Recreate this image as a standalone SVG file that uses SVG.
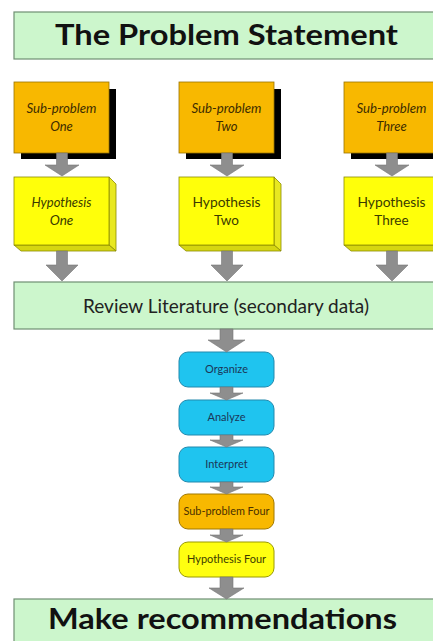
<svg xmlns="http://www.w3.org/2000/svg" width="433" height="641" viewBox="0 0 433 641">
<defs>
<style>
.banner{fill:#ccf6cc;stroke:#6f8f72;stroke-width:1.2}
.sub{fill:#f8b800;stroke:#9a7400;stroke-width:0.8}
.shadow{fill:#000}
.hyp{fill:#ffff0a;stroke:#8c8c00;stroke-width:0.8}
.hypside{fill:#e8e820;stroke:#8c8c00;stroke-width:0.8}
.hypbot{fill:#d6d610;stroke:#8c8c00;stroke-width:0.8}
.cyan{fill:#1fc4ef;stroke:#2289ad;stroke-width:1}
.orng{fill:#f8b800;stroke:#a07800;stroke-width:1}
.yel{fill:#ffff10;stroke:#9a9a00;stroke-width:1}
.arrow{fill:#8e8e8e;stroke:#777;stroke-width:0.6}
.big{font-family:Lato,"Open Sans","DejaVu Sans",sans-serif;font-weight:700;font-size:28px;fill:#111;text-anchor:middle}
.mid{font-family:Lato,"Open Sans","DejaVu Sans",sans-serif;font-size:20px;fill:#222;text-anchor:middle}
.st{font-family:Lato,"Open Sans","DejaVu Sans",sans-serif;font-size:13px;font-style:italic;fill:#3d2c00;text-anchor:middle}
.ht{font-family:Lato,"Open Sans","DejaVu Sans",sans-serif;font-size:13.5px;fill:#3a3a00;text-anchor:middle}
.hti{font-style:italic}
.ct{font-family:Lato,"Open Sans","DejaVu Sans",sans-serif;font-size:11px;fill:#1b3658;text-anchor:middle}
.ot{font-family:Lato,"Open Sans","DejaVu Sans",sans-serif;font-size:11px;fill:#4a3000;text-anchor:middle}
.yt{font-family:Lato,"Open Sans","DejaVu Sans",sans-serif;font-size:11px;fill:#3c3c00;text-anchor:middle}
</style>
</defs>
<rect width="433" height="641" fill="#fff"/>

<g id="problem-statement">
<rect class="banner" x="14" y="12" width="425" height="47"/>
<text class="big" x="226.5" y="45" textLength="343" lengthAdjust="spacingAndGlyphs">The Problem Statement</text>
</g>

<g id="subproblem-one">
<rect class="shadow" x="21" y="89" width="95" height="70"/>
<rect class="sub" x="14" y="82" width="95" height="71"/>
<text class="st" x="61.5" y="113" textLength="70" lengthAdjust="spacingAndGlyphs">Sub-problem</text>
<text class="st" x="61.5" y="131">One</text>
</g>
<g id="subproblem-two">
<rect class="shadow" x="186" y="89" width="95" height="70"/>
<rect class="sub" x="179" y="82" width="95" height="71"/>
<text class="st" x="226.5" y="113" textLength="70" lengthAdjust="spacingAndGlyphs">Sub-problem</text>
<text class="st" x="226.5" y="131">Two</text>
</g>
<g id="subproblem-three">
<rect class="shadow" x="351" y="89" width="95" height="70"/>
<rect class="sub" x="344" y="82" width="95" height="71"/>
<text class="st" x="391.5" y="113" textLength="70" lengthAdjust="spacingAndGlyphs">Sub-problem</text>
<text class="st" x="391.5" y="131">Three</text>
</g>

<g id="hypothesis-one">
<polygon class="hypside" points="109,177 116,184 116,251 109,245"/>
<polygon class="hypbot" points="14,245 109,245 116,251 21,251"/>
<rect class="hyp" x="14" y="177" width="95" height="68"/>
<text class="ht hti" x="61.5" y="207" textLength="60" lengthAdjust="spacingAndGlyphs">Hypothesis</text>
<text class="ht hti" x="61.5" y="225">One</text>
</g>
<g id="hypothesis-two">
<polygon class="hypside" points="274,177 281,184 281,251 274,245"/>
<polygon class="hypbot" points="179,245 274,245 281,251 186,251"/>
<rect class="hyp" x="179" y="177" width="95" height="68"/>
<text class="ht" x="226.5" y="207" textLength="68" lengthAdjust="spacingAndGlyphs">Hypothesis</text>
<text class="ht" x="226.5" y="225">Two</text>
</g>
<g id="hypothesis-three">
<polygon class="hypside" points="439,177 446,184 446,251 439,245"/>
<polygon class="hypbot" points="344,245 439,245 446,251 351,251"/>
<rect class="hyp" x="344" y="177" width="95" height="68"/>
<text class="ht" x="391.5" y="207" textLength="68" lengthAdjust="spacingAndGlyphs">Hypothesis</text>
<text class="ht" x="391.5" y="225">Three</text>
</g>

<g id="review-literature">
<rect class="banner" x="14" y="282" width="425" height="47"/>
<text class="mid" x="226" y="313" textLength="286" lengthAdjust="spacingAndGlyphs">Review Literature (secondary data)</text>
</g>

<g id="organize">
<rect class="cyan" x="179" y="352" width="95" height="35" rx="9"/>
<text class="ct" x="226.5" y="373" textLength="43" lengthAdjust="spacingAndGlyphs">Organize</text>
</g>
<g id="analyze">
<rect class="cyan" x="179" y="400" width="95" height="35" rx="9"/>
<text class="ct" x="226.5" y="421">Analyze</text>
</g>
<g id="interpret">
<rect class="cyan" x="179" y="447" width="95" height="35" rx="9"/>
<text class="ct" x="226.5" y="468">Interpret</text>
</g>
<g id="subproblem-four">
<rect class="orng" x="179" y="494" width="95" height="35" rx="9"/>
<text class="ot" x="226.5" y="515" textLength="86" lengthAdjust="spacingAndGlyphs">Sub-problem Four</text>
</g>
<g id="hypothesis-four">
<rect class="yel" x="179" y="542" width="95" height="35" rx="9"/>
<text class="yt" x="226.5" y="563" textLength="79" lengthAdjust="spacingAndGlyphs">Hypothesis Four</text>
</g>

<g id="make-recommendations">
<rect class="banner" x="14" y="599" width="425" height="50"/>
<text class="big" x="222.5" y="629" textLength="349" lengthAdjust="spacingAndGlyphs">Make recommendations</text>
</g>

<g id="connectors">
<path class="arrow" d="M56.5,153 H67.5 V165 H79 L62,176 L45,165 H56.5 Z"/>
<path class="arrow" d="M221.5,153 H232.5 V165 H244 L227,176 L210,165 H221.5 Z"/>
<path class="arrow" d="M386.5,153 H397.5 V165 H409 L392,176 L375,165 H386.5 Z"/>
<path class="arrow" d="M56.5,251 H67.5 V265 H78 L62,281 L46,265 H56.5 Z"/>
<path class="arrow" d="M221.5,251 H232.5 V265 H243 L227,281 L211,265 H221.5 Z"/>
<path class="arrow" d="M386.5,251 H397.5 V265 H408 L392,281 L376,265 H386.5 Z"/>
<path class="arrow" d="M220,329 H233 V340 H245 L226.5,352 L208,340 H220 Z"/>
<path class="arrow" d="M220,387 H233 V393 H243 L226.5,400 L210,393 H220 Z"/>
<path class="arrow" d="M220,435 H233 V440 H243 L226.5,447 L210,440 H220 Z"/>
<path class="arrow" d="M220,482 H233 V487 H243 L226.5,494 L210,487 H220 Z"/>
<path class="arrow" d="M220,529 H233 V535 H243 L226.5,542 L210,535 H220 Z"/>
<path class="arrow" d="M220,577 H233 V588 H244 L226.5,599 L209,588 H220 Z"/>
</g>
</svg>
